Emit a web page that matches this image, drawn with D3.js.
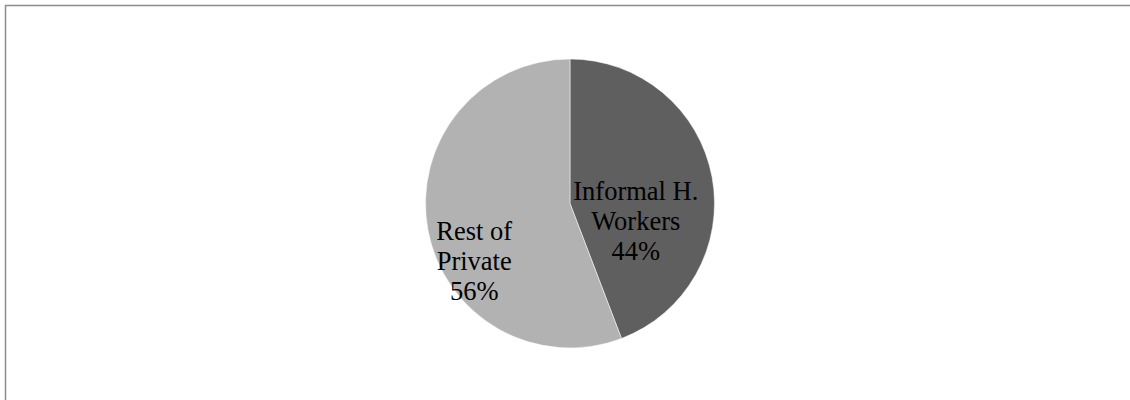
<!DOCTYPE html>
<html>
<head>
<meta charset="utf-8">
<script src="https://cdn.jsdelivr.net/npm/d3@7/dist/d3.min.js"></script>
<style>
  html, body { margin: 0; padding: 0; background: #fff; }
  svg { display: block; }
</style>
</head>
<body>
<svg id="chart" width="1130" height="400"></svg>
<script>
// Share of private-sector employment
const categories = ["Informal H. Workers", "Rest of Private"];
const labelLines = [["Informal H.", "Workers"], ["Rest of", "Private"]];
const shares = [44.2, 55.8];
const percentLabels = ["44%", "56%"];
const colors = ["#5f5f5f", "#b2b2b2"];

const svg = d3.select("#chart");

// frame (right and bottom edges fall outside the viewport)
svg.append("rect")
  .attr("x", 5.5).attr("y", 5.5)
  .attr("width", 1140).attr("height", 410)
  .attr("fill", "none")
  .attr("stroke", "#8c8c8c")
  .attr("stroke-width", 1.5);

const cx = 570, cy = 203.5, radius = 144.5;

const pie = d3.pie().sort(null).value(d => d);
const arcs = pie(shares);
const arc = d3.arc().innerRadius(0).outerRadius(radius);

const g = svg.append("g").attr("transform", `translate(${cx},${cy})`);

g.selectAll("path.slice")
  .data(arcs)
  .join("path")
  .attr("class", "slice")
  .attr("d", arc)
  .attr("fill", (d, i) => colors[i])
  .attr("stroke", "#ffffff")
  .attr("stroke-width", 0.5);

// labels placed inside the slices, nudged from the centroid
const labelArc = d3.arc().innerRadius(0).outerRadius(radius * 0.94);
const labelShift = [[-1, 30], [-29, 45]];
const lineHeight = 30;

g.selectAll("text.lbl")
  .data(arcs)
  .join("text")
  .attr("class", "lbl")
  .attr("text-anchor", "middle")
  .attr("font-family", "'Liberation Serif', 'Times New Roman', serif")
  .attr("font-size", "26.5px")
  .attr("fill", "#000")
  .each(function (d, i) {
    const [x, y] = labelArc.centroid(d);
    const lx = x + labelShift[i][0];
    const ly = y + labelShift[i][1];
    const lines = labelLines[i].concat([percentLabels[i]]);
    const t = d3.select(this);
    lines.forEach((s, k) => {
      t.append("tspan")
        .attr("x", lx)
        .attr("y", ly + (k - (lines.length - 1) / 2) * lineHeight + 9)
        .text(s);
    });
  });
</script>
</body>
</html>
